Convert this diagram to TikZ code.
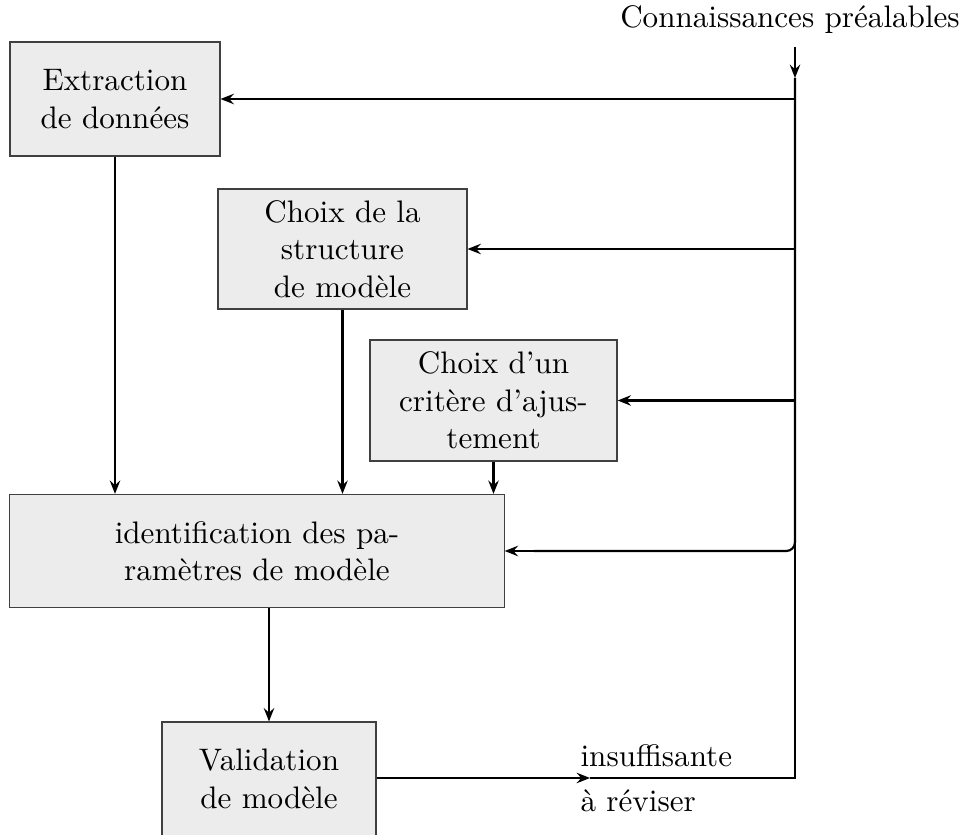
\documentclass[tikz,border=0pt]{standalone}
\usetikzlibrary{arrows.meta}
\begin{document}
\begin{tikzpicture}[x=0.344pt,y=-0.344pt,
  every node/.style={font=\fontsize{10.7pt}{12.9pt}\selectfont},
  procbox/.style={draw=black!75,fill=gray!15,align=center,inner sep=0pt,line width=0.4pt},
  flow/.style={line width=0.75pt,-{Stealth[length=4.6pt,width=3.6pt,inset=1.6pt]}},
  trunk/.style={line width=0.75pt},
  back/.style={line width=0.4pt}]
  \useasboundingbox (0,0) rectangle (970,835);

  % process boxes
  \node[procbox,minimum width=72.2pt,minimum height=39.2pt] (ext) at (115,99)
    {Extraction\\de données};
  \node[procbox,minimum width=85.6pt,minimum height=41.3pt] (struc) at (342.5,249)
    {Choix de la\\structure\\de modèle};
  \node[procbox,minimum width=85pt,minimum height=41.6pt] (crit) at (493.5,400.5)
    {Choix d'un\\critère d'ajus-\\tement};
  \node[procbox,minimum width=170pt,minimum height=38.9pt] (ident) at (257,551)
    {identification des pa-\\ramètres de modèle};
  \node[procbox,minimum width=73.6pt,minimum height=39.2pt] (val) at (269,779)
    {Validation\\de modèle};

  % prior knowledge input
  \node[anchor=base,inner sep=0pt] (prior) at (790,28) {Connaissances préalables};
  \coordinate (k) at (795,78);
  \coordinate (ktop) at (795,47);
  \draw[flow] (ktop) -- (k);
  \draw[trunk,rounded corners=3pt] (k) -- (k |- ident.east) -- ([xshift=10pt]ident.east);
  \draw[flow] ([xshift=10pt]ident.east) -- (ident.east);
  \draw[flow] (k |- ext.east) -- (ext.east);
  \draw[flow] (k |- struc.east) -- (struc.east);
  \draw[flow] (k |- crit.east) -- (crit.east);

  % data paths into the identification
  \draw[flow] (ext.south) -- (ext.south |- ident.north);
  \draw[flow] (struc.south) -- (struc.south |- ident.north);
  \draw[flow] (crit.south) -- (crit.south |- ident.north);
  \draw[flow] (ident.south -| val.north) -- (val.north);

  % validation outcome and feedback
  \coordinate (r) at (590,778);
  \draw[flow] (val.east |- r) -- (r);
  \draw[back] (r) -- (r -| k) -- ([yshift=5pt]k |- ident.east);
  \node[anchor=base west,inner sep=0pt] (insuf) at (580,767) {insuffisante};
  \node[anchor=base west,inner sep=0pt] (revis) at (580,812) {à réviser};
\end{tikzpicture}
\end{document}
